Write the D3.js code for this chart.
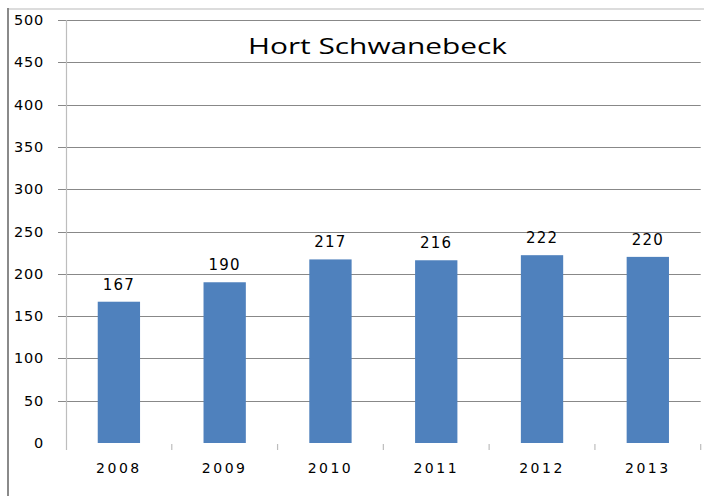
<!DOCTYPE html>
<html>
<head>
<meta charset="utf-8">
<script src="https://cdn.jsdelivr.net/npm/d3@7"></script>
<style>
  html, body { margin: 0; padding: 0; background: #fff; }
  svg { display: block; }
</style>
</head>
<body>
<div id="chart"></div>
<script>
const title = "Hort Schwanebeck";
const categories = ["2008", "2009", "2010", "2011", "2012", "2013"];
const values = [167, 190, 217, 216, 222, 220];
const yTicks = [0, 50, 100, 150, 200, 250, 300, 350, 400, 450, 500];

const W = 704, H = 496;
const svg = d3.select("#chart").append("svg").attr("width", W).attr("height", H);

// outer frame
svg.append("line").attr("x1", 8).attr("x2", W).attr("y1", 9).attr("y2", 9)
  .attr("stroke", "#d0d0d0").attr("stroke-width", 1.5);
svg.append("line").attr("x1", 8).attr("x2", 8).attr("y1", 8).attr("y2", H)
  .attr("stroke", "#8a8a8a").attr("stroke-width", 2);

const plotL = 66, plotR = 700.7, plotT = 20, plotB = 443;
const x = d3.scaleBand().domain(categories).range([plotL, plotR]).paddingInner(0.6).paddingOuter(0.3);
const y = d3.scaleLinear().domain([0, 500]).range([plotB, plotT]);

// gridlines (with tick stubs left of axis)
svg.append("g").selectAll("line").data(yTicks.filter(d => d > 0)).join("line")
  .attr("x1", 58).attr("x2", plotR)
  .attr("y1", d => Math.round(y(d)) + 0.5).attr("y2", d => Math.round(y(d)) + 0.5)
  .attr("stroke", "#888").attr("stroke-width", 1);

// y axis line
svg.append("line").attr("x1", plotL + 0.5).attr("x2", plotL + 0.5).attr("y1", plotT).attr("y2", plotB + 7)
  .attr("stroke", "#bdbdbd").attr("stroke-width", 1.2);

// category tick marks
const step = x.step();
const catTicks = d3.range(1, categories.length + 1).map(i => plotL + i * step);
svg.append("g").selectAll("line").data(catTicks).join("line")
  .attr("x1", d => d).attr("x2", d => d).attr("y1", plotB + 1).attr("y2", plotB + 7)
  .attr("stroke", "#bdbdbd").attr("stroke-width", 1.2);

// y tick labels
svg.append("g").selectAll("text").data(yTicks).join("text")
  .attr("x", 44).attr("y", d => y(d) + 5)
  .attr("text-anchor", "end")
  .attr("font-family", "DejaVu Sans, sans-serif").attr("font-size", 14.5)
  .attr("letter-spacing", 0.8)
  .attr("fill", "#000")
  .text(d => d);

// bars
svg.append("g").selectAll("rect").data(values).join("rect")
  .attr("x", (d, i) => x(categories[i]))
  .attr("width", x.bandwidth())
  .attr("y", d => y(d))
  .attr("height", d => y(0) - y(d))
  .attr("fill", "#4f81bd");

// value labels
svg.append("g").selectAll("text").data(values).join("text")
  .attr("x", (d, i) => x(categories[i]) + x.bandwidth() / 2)
  .attr("y", d => y(d) - 12)
  .attr("text-anchor", "middle")
  .attr("font-family", "DejaVu Sans, sans-serif").attr("font-size", 15)
  .attr("letter-spacing", 1.2)
  .attr("fill", "#000")
  .text(d => d);

// category labels
svg.append("g").selectAll("text").data(categories).join("text")
  .attr("x", d => x(d) + x.bandwidth() / 2)
  .attr("y", 473)
  .attr("text-anchor", "middle")
  .attr("font-family", "DejaVu Sans, sans-serif").attr("font-size", 14)
  .attr("letter-spacing", 2.5)
  .attr("fill", "#000")
  .text(d => d);

// title
svg.append("text")
  .attr("x", 248).attr("y", 54)
  .attr("font-family", "Open Sans, sans-serif").attr("font-size", 22)
  .attr("textLength", 259).attr("lengthAdjust", "spacingAndGlyphs")
  .attr("fill", "#000")
  .text(title);
</script>
</body>
</html>
